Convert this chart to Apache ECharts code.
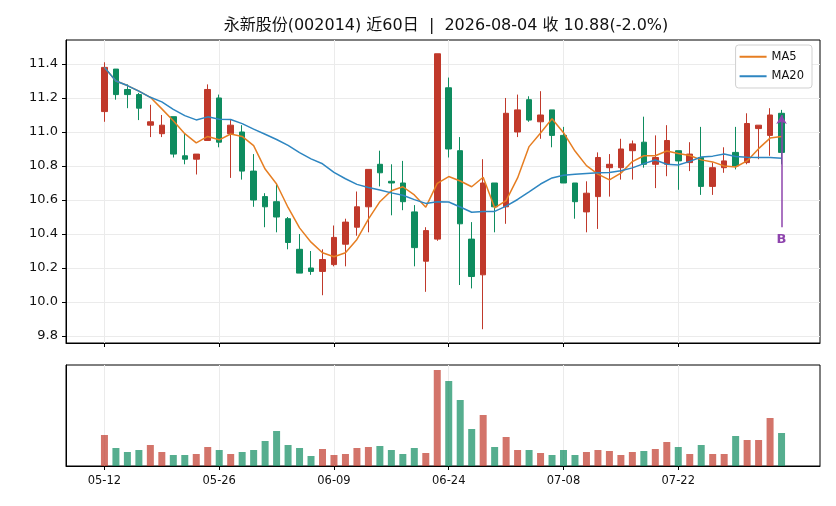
<!DOCTYPE html>
<html lang="zh-cn">
<head>
  <meta charset="UTF-8">
  <title>永新股份 K线</title>
  <style>
    html, body { margin: 0; padding: 0; background: #fff; }
    #myChart { width: 836px; height: 506px; }
  </style>
  <script src="https://cdn.jsdelivr.net/npm/echarts@6.0.0/dist/echarts.min.js"></script>
</head>
<body>
<div id="myChart"></div>
<script>
// 交易日 (60 days)
var dates = ['05-12','05-13','05-14','05-15','05-18','05-19','05-20','05-21','05-22','05-25',
  '05-26','05-27','05-28','05-29','06-01','06-02','06-03','06-04','06-05','06-08',
  '06-09','06-10','06-11','06-12','06-15','06-16','06-17','06-18','06-22','06-23',
  '06-24','06-25','06-26','06-29','06-30','07-01','07-02','07-03','07-06','07-07',
  '07-08','07-09','07-10','07-13','07-14','07-15','07-16','07-17','07-20','07-21',
  '07-22','07-23','07-24','07-27','07-28','07-29','07-30','07-31','08-03','08-04'];
var opens = [11.12,11.37,11.25,11.22,11.04,10.99,11.09,10.86,10.84,10.95,
  11.20,10.99,11.00,10.77,10.62,10.59,10.49,10.31,10.20,10.18,
  10.22,10.34,10.44,10.56,10.81,10.71,10.70,10.53,10.24,10.37,
  11.26,10.89,10.37,10.16,10.70,10.56,11.00,11.19,11.06,11.13,
  10.98,10.70,10.53,10.62,10.79,10.79,10.89,10.94,10.81,10.81,
  10.89,10.82,10.85,10.68,10.79,10.88,10.82,11.02,10.98,11.11];
var closes = [11.38,11.22,11.22,11.14,11.06,11.04,10.87,10.84,10.87,11.25,
  10.94,11.04,10.77,10.60,10.56,10.50,10.35,10.17,10.18,10.25,
  10.38,10.47,10.56,10.78,10.76,10.70,10.59,10.32,10.42,11.46,
  10.90,10.46,10.15,10.70,10.56,11.11,11.13,11.07,11.10,10.98,
  10.70,10.59,10.64,10.85,10.81,10.90,10.93,10.81,10.85,10.95,
  10.83,10.87,10.68,10.79,10.83,10.80,11.05,11.04,11.10,10.88];
var lows = [11.06,11.19,11.14,11.07,10.97,10.97,10.85,10.81,10.75,10.95,
  10.91,10.73,10.72,10.56,10.44,10.41,10.31,10.17,10.16,10.04,
  10.21,10.21,10.39,10.41,10.68,10.51,10.54,10.21,10.06,10.36,
  10.85,10.10,10.08,9.84,10.41,10.46,10.97,11.06,10.96,10.91,
  10.70,10.49,10.41,10.43,10.62,10.72,10.72,10.79,10.67,10.74,
  10.66,10.77,10.63,10.63,10.76,10.78,10.81,10.84,10.86,10.81];
var highs = [11.41,11.37,11.28,11.23,11.16,11.10,11.09,10.99,10.87,11.28,
  11.22,11.07,11.04,10.87,10.64,10.70,10.50,10.40,10.30,10.31,
  10.45,10.49,10.65,10.78,10.89,10.81,10.83,10.57,10.44,11.46,
  11.32,10.97,10.47,10.84,10.70,11.20,11.22,11.21,11.24,11.13,
  11.03,10.70,10.71,10.88,10.87,10.96,10.95,11.09,10.98,11.04,
  10.89,10.94,11.03,10.82,10.91,11.03,11.11,11.04,11.14,11.13];
// 成交量 (相对值)
var volumes = [31,18,14,16,21,14,11,11,12,19,
  16,12,14,16,25,35,21,18,10,17,
  11,12,18,19,20,16,12,18,13,96,
  85,66,37,51,19,29,16,16,13,11,
  16,11,14,16,15,11,14,15,17,24,
  19,12,21,12,12,30,26,26,48,33];
var ma5 = [11.38,11.30,11.273,11.24,11.204,11.136,11.066,10.99,10.936,10.974,
  10.954,10.988,10.974,10.92,10.782,10.694,10.556,10.436,10.352,10.29,
  10.266,10.29,10.368,10.488,10.59,10.654,10.678,10.63,10.558,10.698,
  10.738,10.712,10.678,10.734,10.554,10.596,10.73,10.914,10.994,11.078,
  10.996,10.888,10.802,10.752,10.718,10.758,10.826,10.86,10.86,10.888,
  10.874,10.862,10.836,10.824,10.80,10.794,10.83,10.902,10.964,10.974];
var ma20 = [11.38,11.30,11.273,11.24,11.204,11.177,11.133,11.096,11.071,11.089,
  11.075,11.073,11.049,11.017,10.987,10.956,10.921,10.879,10.842,10.813,
  10.763,10.725,10.692,10.674,10.659,10.642,10.628,10.602,10.580,10.59,
  10.588,10.559,10.528,10.533,10.533,10.564,10.603,10.648,10.694,10.73,
  10.746,10.752,10.756,10.760,10.762,10.772,10.789,10.814,10.835,10.810,
  10.806,10.827,10.853,10.858,10.871,10.856,10.852,10.85,10.85,10.845];
var xTicks = [0, 10, 20, 30, 40, 50];
var yTicks = [9.8, 10.0, 10.2, 10.4, 10.6, 10.8, 11.0, 11.2, 11.4];
// B 信号
var signalIdx = 59;
var signalFrom = 10.44, signalTo = 11.10, signalText = 10.365;

var UP = '#c0392b', DOWN = '#0e8c5f';
var FONT = "'DejaVu Sans', 'Noto Sans CJK SC', sans-serif";

var kData = [], volData = [], ma5Data = [], ma20Data = [];
for (var i = 0; i < dates.length; i++) {
  kData.push([i, opens[i], closes[i], lows[i], highs[i]]);
  volData.push({
    value: [i, volumes[i]],
    itemStyle: { color: closes[i] >= opens[i] ? UP : DOWN, opacity: 0.7 }
  });
  ma5Data.push([i, ma5[i]]);
  ma20Data.push([i, ma20[i]]);
}

var myChart = echarts.init(document.getElementById('myChart'));
var gridLine = { show: true, lineStyle: { color: '#ebebeb', width: 1 } };
var blackLine = { show: true, onZero: false, lineStyle: { color: '#000', width: 1 } };

var option = {
  animation: false,
  textStyle: { fontFamily: FONT },
  title: {
    text: '永新股份(002014) 近60日  |  2026-08-04 收 10.88(-2.0%)',
    left: 441,
    textAlign: 'center',
    top: 13,
    textStyle: { fontSize: 16, fontWeight: 'normal', color: '#111', fontFamily: FONT }
  },
  legend: {
    data: ['MA5', 'MA20'],
    orient: 'vertical',
    right: 24,
    top: 45,
    icon: 'rect',
    itemWidth: 27,
    itemHeight: 2,
    itemGap: 8,
    padding: [6, 8, 6, 4],
    backgroundColor: '#fff',
    borderColor: '#d0d0d0',
    borderWidth: 1,
    borderRadius: 3,
    textStyle: { fontSize: 11.5, color: '#111', fontFamily: FONT }
  },
  grid: [
    { left: 66, top: 40, width: 754, height: 303, show: true, borderColor: '#000', borderWidth: 1 },
    { left: 66, top: 365, width: 754, height: 101, show: true, borderColor: '#000', borderWidth: 1 }
  ],
  xAxis: [
    {
      type: 'value', gridIndex: 0, min: -3.35, max: 62.35,
      axisLine: blackLine,
      axisTick: { show: true, customValues: xTicks, length: 4, lineStyle: { color: '#000' } },
      axisLabel: { show: false, customValues: xTicks },
      splitLine: gridLine
    },
    {
      type: 'value', gridIndex: 1, min: -3.35, max: 62.35,
      axisLine: blackLine,
      axisTick: { show: true, customValues: xTicks, length: 4, lineStyle: { color: '#000' } },
      axisLabel: {
        show: true, customValues: xTicks, fontSize: 11.5, color: '#111', margin: 9,
        formatter: function (v) { return dates[Math.round(v)] || ''; }
      },
      splitLine: gridLine
    }
  ],
  yAxis: [
    {
      type: 'value', gridIndex: 0, min: 9.759, max: 11.541,
      axisLine: blackLine,
      axisTick: { show: true, customValues: yTicks, length: 4, lineStyle: { color: '#000' } },
      axisLabel: {
        customValues: yTicks, fontSize: 13, color: '#111', margin: 8,
        formatter: function (v) { return v.toFixed(1); }
      },
      splitLine: gridLine
    },
    {
      type: 'value', gridIndex: 1, min: 0, max: 101,
      axisLine: blackLine,
      axisTick: { show: false },
      axisLabel: { show: false },
      splitLine: { show: false }
    }
  ],
  series: [
    {
      type: 'candlestick',
      name: 'K',
      xAxisIndex: 0, yAxisIndex: 0,
      data: kData,
      barWidth: 6,
      itemStyle: {
        color: UP, color0: DOWN,
        borderColor: UP, borderColor0: DOWN,
        borderWidth: 1
      },
      markLine: {
        silent: true,
        symbol: ['none', 'arrow'],
        symbolSize: [8, 9],
        label: { show: false },
        lineStyle: { color: '#8e44ad', width: 1.5, type: 'solid' },
        data: [[
          { coord: [signalIdx, signalFrom] },
          { coord: [signalIdx, signalTo] }
        ]]
      },
      markPoint: {
        silent: true,
        symbol: 'circle',
        symbolSize: 1,
        itemStyle: { color: 'rgba(0,0,0,0)' },
        label: {
          show: true, position: 'inside', formatter: 'B',
          color: '#8e44ad', fontWeight: 'bold', fontSize: 13
        },
        data: [{ coord: [signalIdx, signalText] }]
      }
    },
    {
      type: 'line', name: 'MA5',
      xAxisIndex: 0, yAxisIndex: 0,
      data: ma5Data, showSymbol: false, symbol: 'none',
      lineStyle: { color: '#e67e22', width: 1.5 },
      itemStyle: { color: '#e67e22' }
    },
    {
      type: 'line', name: 'MA20',
      xAxisIndex: 0, yAxisIndex: 0,
      data: ma20Data, showSymbol: false, symbol: 'none',
      lineStyle: { color: '#2e86c1', width: 1.5 },
      itemStyle: { color: '#2e86c1' }
    },
    {
      type: 'bar', name: 'VOL',
      xAxisIndex: 1, yAxisIndex: 1,
      data: volData,
      barWidth: 7
    }
  ]
};
myChart.setOption(option);
</script>
</body>
</html>
